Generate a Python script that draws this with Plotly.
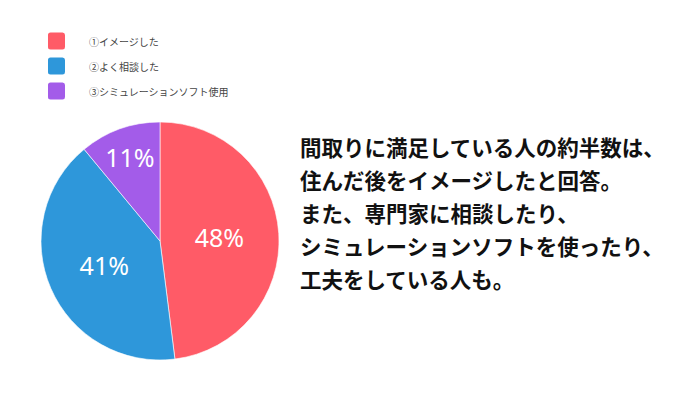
import plotly.graph_objects as go

# survey result: how people planned their floor layout
labels = ["①イメージした", "②よく相談した", "③シミュレーションソフト使用"]
values = [48, 41, 11]
colors = ["#FF5B67", "#2E97DA", "#A35CE9"]

message_lines = [
    "間取りに満足している人の約半数は、",
    "住んだ後をイメージしたと回答。",
    "また、専門家に相談したり、",
    "シミュレーションソフトを使ったり、",
    "工夫をしている人も。",
]

W, H = 680, 400
JP_FONT = "Noto Sans CJK JP"
OFF = 8  # page body margin in the browser

def px_x(x):
    return (x - OFF) / W

def px_y(y):
    return 1 - (y - OFF) / H

def rounded_box(x0, y0, x1, y1, r):
    # path in paper coords for a small rounded square given in pixels
    X = lambda v: f"{px_x(v):.5f}"
    Y = lambda v: f"{px_y(v):.5f}"
    return (f"M{X(x0 + r)},{Y(y0)} L{X(x1 - r)},{Y(y0)} Q{X(x1)},{Y(y0)} {X(x1)},{Y(y0 + r)} "
            f"L{X(x1)},{Y(y1 - r)} Q{X(x1)},{Y(y1)} {X(x1 - r)},{Y(y1)} "
            f"L{X(x0 + r)},{Y(y1)} Q{X(x0)},{Y(y1)} {X(x0)},{Y(y1 - r)} "
            f"L{X(x0)},{Y(y0 + r)} Q{X(x0)},{Y(y0)} {X(x0 + r)},{Y(y0)} Z")

fig = go.Figure(go.Pie(
    labels=labels,
    values=values,
    sort=False,
    direction="clockwise",
    rotation=0,
    marker=dict(colors=colors, line=dict(color="white", width=0.6)),
    texttemplate="%{percent:.0%}",
    textposition="inside",
    insidetextorientation="horizontal",
    textfont=dict(family="Noto Sans", size=25, color="white"),
    hoverinfo="label+percent",
    showlegend=False,
    domain=dict(x=[px_x(41), px_x(279)], y=[px_y(360), px_y(122)]),
))

# hand-made legend: rounded squares + labels
shapes = []
annotations = []
for i, (lab, col) in enumerate(zip(labels, colors)):
    cy = 41 + 25 * i
    shapes.append(dict(
        type="path", xref="paper", yref="paper",
        path=rounded_box(48, cy - 8.5, 65, cy + 8.5, 2.5),
        fillcolor=col, line=dict(width=0), layer="above",
    ))
    annotations.append(dict(
        text=lab, xref="paper", yref="paper",
        x=px_x(87), y=px_y(cy), xanchor="left", yanchor="middle",
        showarrow=False, font=dict(family=JP_FONT, size=10, color="#444444"),
    ))

for i, line in enumerate(message_lines):
    annotations.append(dict(
        text=f"<b>{line}</b>", xref="paper", yref="paper",
        x=px_x(298), y=px_y(146 + 33 * i), xanchor="left", yanchor="middle",
        showarrow=False, font=dict(family=JP_FONT, size=21.5, color="#111111"),
    ))

fig.update_layout(
    width=W,
    height=H,
    margin=dict(l=0, r=0, t=0, b=0),
    paper_bgcolor="white",
    plot_bgcolor="white",
    shapes=shapes,
    annotations=annotations,
)

fig.write_html("out.html")
